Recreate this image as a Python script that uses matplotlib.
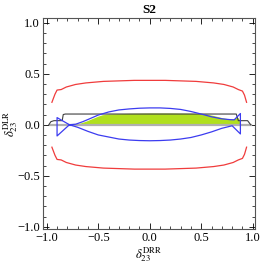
import matplotlib
matplotlib.use("Agg")
from matplotlib import pyplot as plt
from matplotlib.ticker import MultipleLocator

plt.rcParams["font.family"] = ["Liberation Serif", "DejaVu Serif"]
plt.rcParams["mathtext.fontset"] = "stix"

# red contour (upper branch; the lower one is its mirror)
red_x = [-0.95, -0.92, -0.90, -0.86, -0.81, -0.72, -0.62, -0.45, -0.30, -0.15, 0.0,
         0.15, 0.30, 0.45, 0.62, 0.72, 0.81, 0.86, 0.90, 0.92, 0.94]
red_y = [0.22, 0.30, 0.34, 0.345, 0.37, 0.395, 0.41, 0.425, 0.43, 0.435, 0.435,
         0.435, 0.43, 0.425, 0.41, 0.395, 0.37, 0.345, 0.33, 0.29, 0.22]

# blue closed contour
blue_x = [-0.78, -0.72, -0.65, -0.58, -0.50, -0.40, -0.30, -0.20, -0.10, 0.0, 0.10, 0.20,
          0.30, 0.40, 0.50, 0.60, 0.70, 0.78, 0.82, 0.88, 0.88, 0.80, 0.70, 0.60, 0.50,
          0.40, 0.30, 0.20, 0.10, 0.0, -0.10, -0.20, -0.30, -0.40, -0.50, -0.60, -0.70,
          -0.78, -0.90, -0.90, -0.78]
blue_y = [0.0, 0.005, 0.03, 0.06, 0.095, 0.125, 0.145, 0.155, 0.162, 0.165, 0.165, 0.16,
          0.15, 0.13, 0.105, 0.078, 0.058, 0.05, 0.048, 0.11, -0.09, -0.01, -0.035, -0.07, -0.10,
          -0.125, -0.14, -0.15, -0.155, -0.157, -0.155, -0.15, -0.14, -0.12, -0.10, -0.065, -0.025,
          0.0, -0.11, 0.07, 0.0]

# black outline
black_x = [-0.98, -0.96, -0.93, -0.85, -0.84, -0.82, 0.84, 0.86, 0.95, 0.98]
black_y = [0.0, 0.03, 0.04, 0.04, 0.10, 0.105, 0.105, 0.04, 0.04, 0.0]

# green allowed region (upper edge, lower edge is y = 0)
green_x = [-0.73, -0.68, -0.62, -0.56, -0.50, -0.46, -0.40, -0.20, 0.0, 0.20, 0.40, 0.55, 0.62,
           0.70, 0.78, 0.82, 0.85, 0.88, 0.88]
green_y = [0.0, 0.015, 0.035, 0.06, 0.085, 0.098, 0.105, 0.112, 0.115, 0.115, 0.112, 0.105, 0.09,
           0.07, 0.055, 0.06, 0.075, 0.04, 0.0]

fig = plt.figure(figsize=(2.6, 2.66), dpi=100)
ax = fig.add_axes([0.164, 0.138, 0.818, 0.793])

ax.plot([-0.97, 0.98], [0, 0], color="#b0b0b0", lw=1.6)
ax.fill_between(green_x, 0, green_y, color="#b0e01e", lw=0)
ax.plot(black_x, black_y, color="#404040", lw=0.8)
ax.plot(blue_x, blue_y, color="#3c3cf0", lw=0.9)
ax.plot(red_x, red_y, color="#f03c3c", lw=0.9)
ax.plot(red_x, [-v for v in red_y], color="#f03c3c", lw=0.9)

ax.set_xlim(-1.04, 1.025)
ax.set_ylim(-1.025, 1.043)
ax.xaxis.set_major_locator(MultipleLocator(0.5))
ax.yaxis.set_major_locator(MultipleLocator(0.5))
ax.xaxis.set_minor_locator(MultipleLocator(0.1))
ax.yaxis.set_minor_locator(MultipleLocator(0.1))
ax.tick_params(which="both", direction="in", top=True, right=True, labelsize=9, pad=2)
ax.tick_params(which="major", length=4, width=0.6)
ax.tick_params(which="minor", length=2, width=0.5)
for s in ax.spines.values():
    s.set_linewidth(0.8)
    s.set_color("#555555")
ax.xaxis.set_major_formatter(plt.FuncFormatter(lambda v, p: "%.1f" % v if v >= 0 else "\u2212%.1f" % -v))
ax.yaxis.set_major_formatter(plt.FuncFormatter(lambda v, p: "%.1f" % v if v >= 0 else "\u2212%.1f" % -v))

ax.set_title("S2", fontsize=9.5, fontweight="bold", pad=4)
ax.set_xlabel(r"$\delta_{23}^{\rm DRR}$", fontsize=9, labelpad=1)
ax.set_ylabel(r"$\delta_{23}^{\rm DLR}$", fontsize=9, labelpad=-2)

fig.savefig("out.png", dpi=100)
